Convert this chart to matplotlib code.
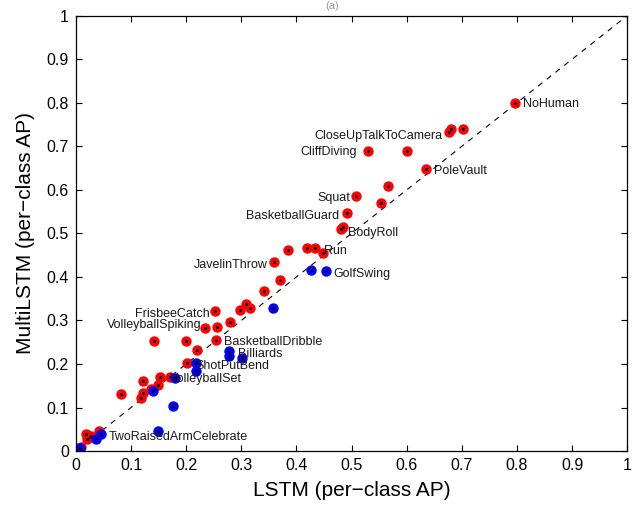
import numpy as np
import matplotlib.pyplot as plt

plt.rcParams['font.family'] = ['Liberation Sans', 'DejaVu Sans']

# per-class AP, red = MultiLSTM better, blue = LSTM better
red_x = [0.796, 0.681, 0.677, 0.703, 0.529, 0.600, 0.635, 0.566, 0.508, 0.554,
         0.492, 0.481, 0.485, 0.420, 0.433, 0.449, 0.385, 0.360, 0.370, 0.342,
         0.309, 0.315, 0.298, 0.253, 0.235, 0.256, 0.279, 0.142, 0.200, 0.255,
         0.220, 0.201, 0.171, 0.152, 0.148, 0.136, 0.122, 0.122, 0.118, 0.082,
         0.042, 0.018, 0.025, 0.021, 0.028, 0.010, 0.004]
red_y = [0.800, 0.741, 0.733, 0.741, 0.689, 0.689, 0.649, 0.608, 0.587, 0.571,
         0.548, 0.510, 0.515, 0.466, 0.466, 0.454, 0.461, 0.434, 0.394, 0.367,
         0.338, 0.329, 0.323, 0.322, 0.283, 0.285, 0.297, 0.252, 0.252, 0.256,
         0.233, 0.202, 0.170, 0.171, 0.151, 0.142, 0.161, 0.133, 0.122, 0.132,
         0.046, 0.040, 0.032, 0.027, 0.035, 0.010, 0.007]

blue_x = [0.427, 0.453, 0.357, 0.278, 0.278, 0.301, 0.218, 0.217, 0.180, 0.176,
          0.139, 0.149, 0.045, 0.036, 0.007]
blue_y = [0.416, 0.414, 0.328, 0.231, 0.219, 0.215, 0.202, 0.185, 0.169, 0.104,
          0.137, 0.047, 0.039, 0.027, 0.007]

# (name, series, index in series)
labels = [
    ('NoHuman', 'r', 0),
    ('CloseUpTalkToCamera', 'r', 2),
    ('CliffDiving', 'r', 4),
    ('PoleVault', 'r', 6),
    ('Squat', 'r', 8),
    ('BasketballGuard', 'r', 10),
    ('BodyRoll', 'r', 11),
    ('Run', 'r', 14),
    ('GolfSwing', 'b', 1),
    ('JavelinThrow', 'r', 17),
    ('FrisbeeCatch', 'r', 23),
    ('VolleyballSpiking', 'r', 24),
    ('BasketballDribble', 'r', 29),
    ('Billiards', 'b', 3),
    ('ShotPutBend', 'r', 31),
    ('VolleyballSet', 'r', 33),
    ('TwoRaisedArmCelebrate', 'b', 12),
]
# label offsets in pixels, left-side labels are right aligned
label_offsets = {
    'NoHuman': (8, -1, 'left'),
    'CloseUpTalkToCamera': (-7, -4, 'right'),
    'CliffDiving': (-11, -1, 'right'),
    'PoleVault': (8, -2, 'left'),
    'Squat': (-6, -2, 'right'),
    'BasketballGuard': (-8, -3, 'right'),
    'BodyRoll': (7, -4, 'left'),
    'Run': (9, -3, 'left'),
    'GolfSwing': (8, -3, 'left'),
    'JavelinThrow': (-7, -3, 'right'),
    'FrisbeeCatch': (-6, -3, 'right'),
    'VolleyballSpiking': (-4, 3, 'right'),
    'BasketballDribble': (8, -2, 'left'),
    'Billiards': (9, -3, 'left'),
    'ShotPutBend': (9, -3, 'left'),
    'VolleyballSet': (10, -2, 'left'),
    'TwoRaisedArmCelebrate': (8, -3, 'left'),
}

fig = plt.figure(figsize=(6.38, 5.08), dpi=100)
ax = fig.add_axes([0.119, 0.112, 0.864, 0.857])

ax.plot([0, 1], [0, 1], 'k--', linewidth=0.8, dashes=(5, 5))

ax.plot(red_x, red_y, 'o', color='red', markersize=7.5, markeredgewidth=0)
ax.plot(red_x, red_y, '.', color='black', markersize=2.5)
ax.plot(blue_x, blue_y, 'o', color='blue', markersize=7.5, markeredgewidth=0)
ax.plot(blue_x, blue_y, '.', color='black', markersize=2.5)

for name, series, idx in labels:
    if series == 'r':
        px, py = red_x[idx], red_y[idx]
    else:
        px, py = blue_x[idx], blue_y[idx]
    dx, dy, ha = label_offsets[name]
    ax.annotate(name, xy=(px, py), xytext=(dx, dy), textcoords='offset pixels',
                ha=ha, va='center', fontsize=9, color='#1a1a1a')

ax.set_xlim(0, 1)
ax.set_ylim(0, 1)
ticks = np.arange(0, 1.01, 0.1)
tick_labels = ['0', '0.1', '0.2', '0.3', '0.4', '0.5', '0.6', '0.7', '0.8', '0.9', '1']
ax.set_xticks(ticks)
ax.set_xticklabels(tick_labels)
ax.set_yticks(ticks)
ax.set_yticklabels(tick_labels)
ax.tick_params(direction='in', top=True, right=True, length=4, width=0.8,
               labelsize=11.5, pad=5)
for s in ax.spines.values():
    s.set_linewidth(0.9)

ax.set_xlabel('LSTM (per\u2212class AP)', fontsize=15, labelpad=6)
ax.set_ylabel('MultiLSTM (per\u2212class AP)', fontsize=15, labelpad=8)

fig.text(0.52, 0.999, '(a)', ha='center', va='top', fontsize=8, color='#999999')

fig.savefig('out.png', dpi=100)
